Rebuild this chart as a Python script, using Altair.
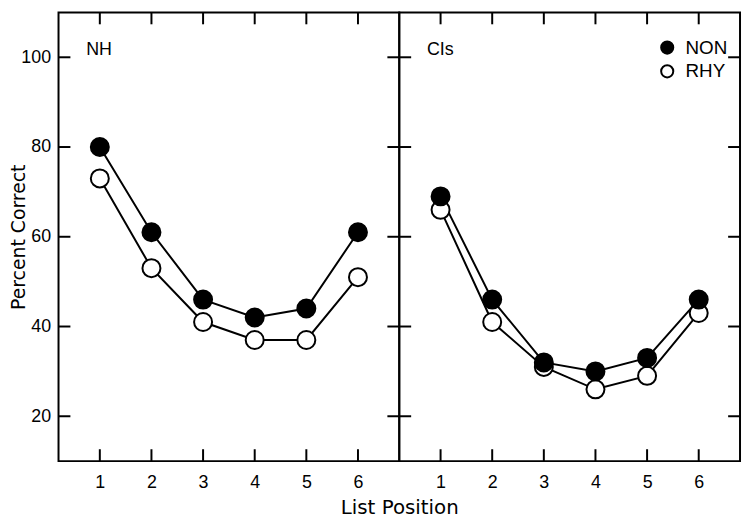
import altair as alt
import pandas as pd

# ---- data ----
positions = [1, 2, 3, 4, 5, 6]
nh_non = [80, 61, 46, 42, 44, 61]
nh_rhy = [73, 53, 41, 37, 37, 51]
ci_non = [69, 46, 32, 30, 33, 46]
ci_rhy = [66, 41, 31, 26, 29, 43]
conditions = ["NON", "RHY"]
panel_names = ["NH", "CIs"]
y_ticks = [20, 40, 60, 80, 100]
x_ticks = [1, 2, 3, 4, 5, 6]
x_title = "List Position"
y_title = "Percent Correct"

W, H = 344, 453
TICK = 12
LFONT = "Liberation Sans"
TFONT = "DejaVu Sans"


def frame(non, rhy):
    rows = [{"pos": p, "pct": v, "cond": "RHY"} for p, v in zip(positions, rhy)]
    rows += [{"pos": p, "pct": v, "cond": "NON"} for p, v in zip(positions, non)]
    return pd.DataFrame(rows)


xscale = alt.Scale(domain=[0.2, 6.8], nice=False, zero=False)
yscale = alt.Scale(domain=[10, 110], nice=False, zero=False)
fscale = alt.Scale(domain=conditions, range=["black", "white"])

yt = pd.DataFrame({"v": y_ticks})
xt = pd.DataFrame({"v": x_ticks})


def panel(df, name, first):
    xaxis_kw = dict(values=x_ticks, labelFont=LFONT, labelFontSize=18, labelPadding=13,
                    ticks=False, domain=False, grid=False, labelAngle=0,
                    labelColor="black")
    if first:
        xaxis_kw.update(title=x_title, titleFont=TFONT, titleFontSize=20,
                        titleFontWeight="normal", titleX=W, titleY=37,
                        titleAlign="center", titleBaseline="top", titleColor="black")
        x_axis = alt.Axis(**xaxis_kw)
        y_axis = alt.Axis(
            values=y_ticks, labelFont=LFONT, labelFontSize=18, labelPadding=8,
            ticks=False, domain=False, grid=False, labelColor="black",
            title=y_title, titleFont=TFONT, titleFontSize=19, titleFontWeight="normal",
            titleX=-34, titleBaseline="alphabetic", titleColor="black")
        fill_enc = alt.Fill("cond:N", scale=fscale, legend=None)
        yy = alt.Y("v:Q", scale=yscale)
        yp = alt.Y("pct:Q", scale=yscale)
    else:
        xaxis_kw.update(title="")
        x_axis = alt.Axis(**xaxis_kw)
        y_axis = None
        fill_enc = alt.Fill("cond:N", scale=fscale, legend=alt.Legend(
            orient="none", legendX=261, legendY=26, title=None, padding=0,
            symbolType="circle", symbolSize=150, symbolStrokeColor="black",
            symbolStrokeWidth=2, symbolOpacity=1, labelFont=LFONT, labelFontSize=19,
            labelOffset=9, rowPadding=3, labelColor="black"))
        yy = alt.Y("v:Q", scale=yscale, axis=None)
        yp = alt.Y("pct:Q", scale=yscale, axis=None)

    base = alt.Chart(df)
    lines = base.mark_line(color="black", strokeWidth=2).encode(
        x=alt.X("pos:Q", scale=xscale, axis=x_axis),
        y=alt.Y("pct:Q", scale=yscale, axis=y_axis),
        detail="cond:N")
    points = base.mark_circle(size=330, stroke="black", strokeWidth=2, opacity=1).encode(
        x=alt.X("pos:Q", scale=xscale),
        y=yp,
        fill=fill_enc)

    ty = alt.Chart(yt)
    tx = alt.Chart(xt)
    xx = alt.X("v:Q", scale=xscale)
    tl = ty.mark_rule(color="black", strokeWidth=2).encode(
        x=alt.value(0), x2=alt.value(TICK), y=yy)
    tr = ty.mark_rule(color="black", strokeWidth=2).encode(
        x=alt.value(W), x2=alt.value(W - TICK), y=yy)
    tt = tx.mark_rule(color="black", strokeWidth=2).encode(
        y=alt.value(0), y2=alt.value(TICK), x=xx)
    tb = tx.mark_rule(color="black", strokeWidth=2).encode(
        y=alt.value(H), y2=alt.value(H - TICK), x=xx)

    label = alt.Chart(pd.DataFrame({"name": [name]})).mark_text(
        align="left", baseline="middle", font=LFONT, fontSize=18, color="black"
    ).encode(x=alt.value(28), y=alt.value(38), text="name:N")

    return alt.layer(lines, tl, tr, tt, tb, points, label).properties(width=W, height=H)


left = panel(frame(nh_non, nh_rhy), panel_names[0], True)
right = panel(frame(ci_non, ci_rhy), panel_names[1], False)

chart = alt.hconcat(left, right, spacing=0, bounds="flush").resolve_scale(
    fill="independent"
).properties(
    padding={"left": 1, "top": 0, "right": 0, "bottom": 0},
    background="white",
).configure_view(stroke="black", strokeWidth=2)

chart.save("out.html", embed_options={"renderer": "svg", "actions": False})
